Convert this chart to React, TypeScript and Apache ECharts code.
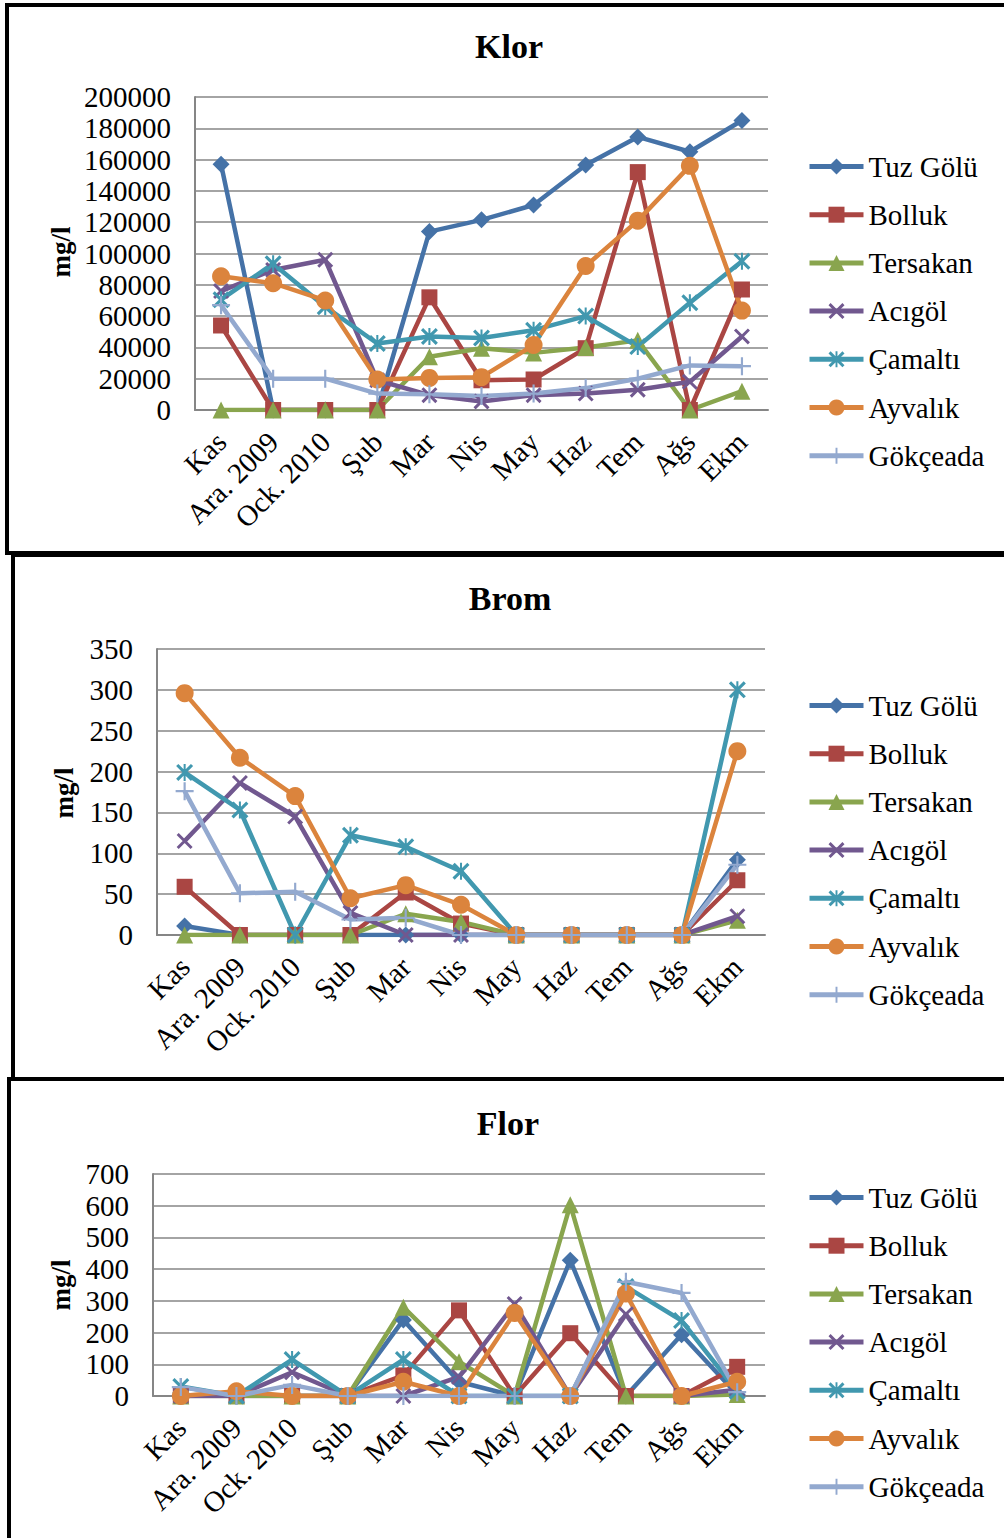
import React, { useEffect, useRef } from "react";
import * as echarts from "echarts";

const categories = ["Kas", "Ara. 2009", "Ock. 2010", "Şub", "Mar", "Nis", "May", "Haz", "Tem", "Ağs", "Ekm"];
const seriesNames = ["Tuz Gölü", "Bolluk", "Tersakan", "Acıgöl", "Çamaltı", "Ayvalık", "Gökçeada"];

// Klor (mg/l)
const klorTuz = [157000, 0, 0, 0, 114000, 121500, 131000, 156500, 174500, 165000, 185000];
const klorBolluk = [54000, 0, 0, 0, 72000, 19000, 19500, 39500, 152000, 0, 77000];
const klorTersakan = [0, 0, 0, 0, 34000, 39500, 36500, 40000, 44500, 0, 12000];
const klorAcigol = [76000, 89500, 96000, 19000, 9500, 5500, 9500, 10500, 13000, 18000, 47000];
const klorCamalti = [70500, 93500, 66000, 42500, 47000, 46000, 51000, 60000, 40500, 68500, 95000];
const klorAyvalik = [85500, 81000, 70000, 19500, 20500, 21000, 41500, 92000, 121000, 156000, 63500];
const klorGokceada = [67000, 20000, 20000, 10500, 10000, 9000, 10500, 14000, 20000, 28500, 28000];

// Brom (mg/l)
const bromTuz = [11, 0, 0, 0, 0, 0, 0, 0, 0, 0, 92];
const bromBolluk = [59, 0, 0, 0, 52, 14, 0, 0, 0, 0, 67];
const bromTersakan = [0, 0, 0, 0, 26, 16, 0, 0, 0, 0, 18];
const bromAcigol = [115, 186, 145, 27, 0, 0, 0, 0, 0, 0, 23];
const bromCamalti = [199, 153, 0, 122, 108, 78, 0, 0, 0, 0, 300];
const bromAyvalik = [296, 217, 170, 45, 61, 37, 0, 0, 0, 0, 225];
const bromGokceada = [176, 51, 53, 19, 21, 0, 0, 0, 0, 0, 86];

// Flor (mg/l)
const florTuz = [0, 0, 0, 0, 240, 45, 0, 428, 0, 193, 5];
const florBolluk = [0, 0, 0, 0, 65, 270, 0, 198, 0, 0, 92];
const florTersakan = [0, 0, 0, 0, 280, 108, 0, 603, 0, 0, 5];
const florAcigol = [0, 0, 75, 0, 0, 60, 290, 0, 258, 0, 20];
const florCamalti = [30, 0, 115, 0, 115, 0, 0, 0, 345, 238, 15];
const florAyvalik = [0, 15, 0, 0, 45, 0, 262, 0, 323, 0, 45];
const florGokceada = [28, 0, 35, 0, 0, 0, 0, 0, 360, 325, 12];

const chartTitles = ["Klor", "Brom", "Flor"];
const yMax = [200000, 350, 700];
const yInterval = [20000, 50, 100];

const FONT = "'Liberation Serif', 'Times New Roman', serif";
const COLORS = ["#4572A7", "#AA4643", "#89A54E", "#71588F", "#4198AF", "#DB843D", "#93A9CF"];
const SYM_X = "path://M0,1.3L1.3,0L10,8.7L8.7,10Z M8.7,0L10,1.3L1.3,10L0,8.7Z";
const SYM_STAR = "path://M0,1.3L1.3,0L10,8.7L8.7,10Z M8.7,0L10,1.3L1.3,10L0,8.7Z M4.4,0L5.6,0L5.6,10L4.4,10Z";
const SYM_PLUS = "path://M4.4,0L5.6,0L5.6,10L4.4,10Z M0,4.4L10,4.4L10,5.6L0,5.6Z";
const SYMBOLS = ["diamond", "rect", "triangle", SYM_X, SYM_STAR, "circle", SYM_PLUS];
const SYM_SIZES = [17, 16, 17, 16, 17, 18, 18];

const GRIDS = [
  { left: 195, top: 97, width: 573, height: 313 },
  { left: 157, top: 649, width: 608, height: 286 },
  { left: 153, top: 1174, width: 612, height: 222 },
];
const LEGEND_TOPS = [147, 686, 1178];
const TITLE_POS = [[509, 46], [510, 598], [508, 1123]];
const MGL_POS = [[61, 252], [64, 793], [61, 1285]];

export default function App() {
  const ref = useRef<HTMLDivElement>(null);
  useEffect(() => {
    if (!ref.current) return;
    const chart = echarts.init(ref.current, undefined, { renderer: "svg" });
    const dataSets = [
      [klorTuz, klorBolluk, klorTersakan, klorAcigol, klorCamalti, klorAyvalik, klorGokceada],
      [bromTuz, bromBolluk, bromTersakan, bromAcigol, bromCamalti, bromAyvalik, bromGokceada],
      [florTuz, florBolluk, florTersakan, florAcigol, florCamalti, florAyvalik, florGokceada],
    ];
    const series: any[] = [];
    dataSets.forEach((set, gi) => {
      set.forEach((d, si) => {
        series.push({
          type: "line",
          name: seriesNames[si],
          xAxisIndex: gi,
          yAxisIndex: gi,
          data: d,
          symbol: SYMBOLS[si],
          symbolSize: SYM_SIZES[si],
          showAllSymbol: true,
          lineStyle: { color: COLORS[si], width: 4.5 },
          itemStyle: { color: COLORS[si] },
          emphasis: { disabled: true },
        });
      });
    });
    const axisGray = "#868686";
    const option: any = {
      animation: false,
      backgroundColor: "#ffffff",
      grid: GRIDS.map((g) => ({ ...g, containLabel: false })),
      xAxis: GRIDS.map((_, i) => ({
        type: "category",
        gridIndex: i,
        data: categories,
        boundaryGap: true,
        axisLine: { lineStyle: { color: axisGray, width: 2 } },
        axisTick: { show: false },
        axisLabel: { rotate: 45, interval: 0, fontFamily: FONT, fontSize: 29, color: "#000", margin: 27 },
        splitLine: { show: false },
      })),
      yAxis: GRIDS.map((_, i) => ({
        type: "value",
        gridIndex: i,
        min: 0,
        max: yMax[i],
        interval: yInterval[i],
        axisLine: { show: true, lineStyle: { color: axisGray, width: 2 } },
        axisTick: { show: false },
        axisLabel: {
          fontFamily: FONT,
          fontSize: 29,
          color: "#000",
          margin: 24,
          formatter: (v: number) => String(v),
        },
        splitLine: { show: true, lineStyle: { color: axisGray, width: 1.5 } },
      })),
      legend: LEGEND_TOPS.map((t) => ({
        orient: "vertical",
        left: 802,
        top: t,
        itemWidth: 54,
        itemHeight: 20,
        itemGap: 19.2,
        selectedMode: false,
        data: seriesNames,
        lineStyle: { width: 5 },
        textStyle: { fontFamily: FONT, fontSize: 29, color: "#000", lineHeight: 28 },
      })),
      graphic: [
        { type: "rect", shape: { x: 7, y: 5, width: 1010, height: 548 }, style: { fill: "none", stroke: "#000", lineWidth: 4 } },
        { type: "rect", shape: { x: 13, y: 555, width: 1010, height: 524 }, style: { fill: "none", stroke: "#000", lineWidth: 4 } },
        { type: "rect", shape: { x: 9, y: 1079, width: 1010, height: 470 }, style: { fill: "none", stroke: "#000", lineWidth: 4 } },
        ...chartTitles.map((t, i) => ({
          type: "text",
          x: TITLE_POS[i][0],
          y: TITLE_POS[i][1],
          style: {
            text: t,
            font: `bold 34px ${FONT}`,
            fill: "#000",
            align: "center",
            verticalAlign: "middle",
            textAlign: "center",
            textVerticalAlign: "middle",
          },
        })),
        ...MGL_POS.map((p) => ({
          type: "text",
          x: p[0],
          y: p[1],
          rotation: Math.PI / 2,
          style: {
            text: "mg/l",
            font: `bold 27px ${FONT}`,
            fill: "#000",
            align: "center",
            verticalAlign: "middle",
            textAlign: "center",
            textVerticalAlign: "middle",
          },
        })),
      ],
      series,
    };
    chart.setOption(option);
    return () => chart.dispose();
  }, []);
  return (
    <div
      ref={ref}
      style={{ position: "absolute", left: 0, top: 0, width: 1004, height: 1538, background: "#fff" }}
    />
  );
}
